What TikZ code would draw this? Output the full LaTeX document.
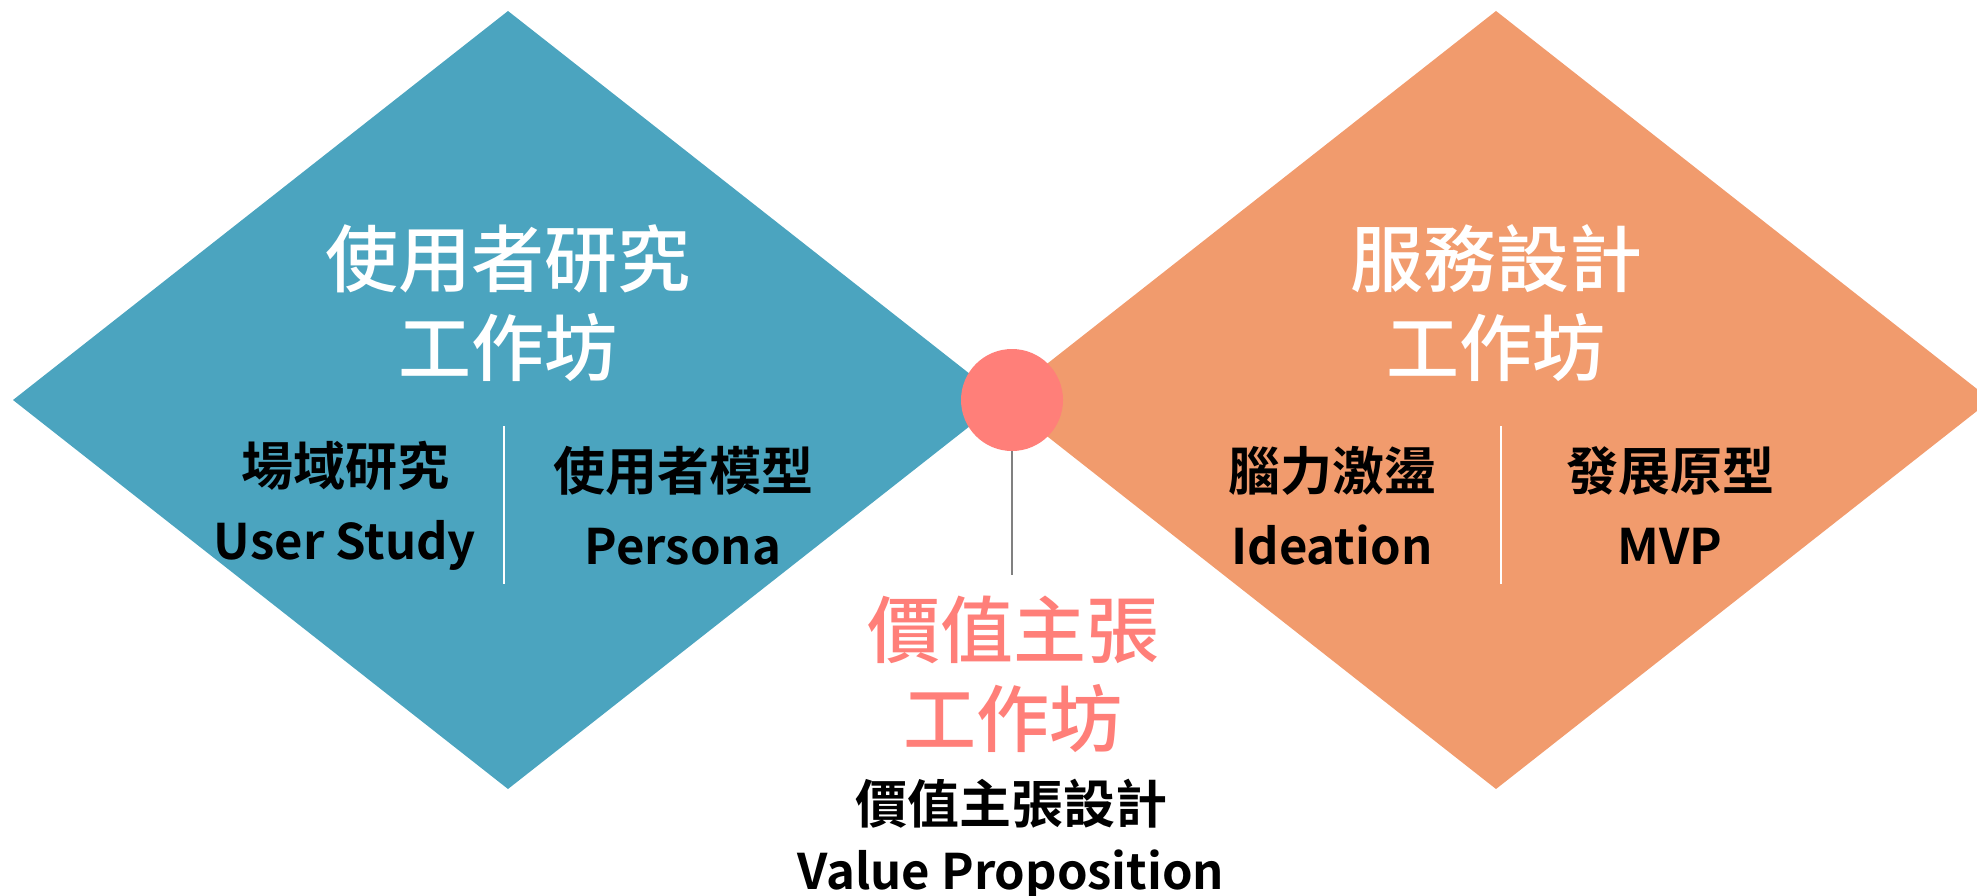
\documentclass[tikz,border=0pt]{standalone}
\usepackage{fontspec}
\setmainfont{Noto Sans CJK TC}[BoldFont={Noto Sans CJK TC Medium}]
\newfontfamily\heavyfont{Noto Sans CJK TC Bold}
\definecolor{userblue}{RGB}{75,164,191}
\definecolor{serviceorange}{RGB}{241,155,109}
\definecolor{valuepink}{RGB}{255,127,121}
\definecolor{stemgray}{RGB}{128,128,128}
\newcommand{\latinsize}{\fontsize{49}{74}\selectfont}
\begin{document}
\begin{tikzpicture}[x=1pt,y=-1pt,
  wstitle/.style={font=\bfseries\fontsize{73}{89}\selectfont,align=center,inner sep=0pt},
  wssub/.style={font=\heavyfont\fontsize{52}{74}\selectfont,align=center,inner sep=0pt,text=black},
  divider/.style={white,line width=1.5pt}]
\useasboundingbox (0,0) rectangle (1977,896);

\fill[userblue] (508,11) -- (1003,400) -- (508,789) -- (13,400) -- cycle;
\fill[serviceorange] (1496,11) -- (1991,400) -- (1496,789) -- (1001,400) -- cycle;

\draw[divider] (504,426) -- (504,584);
\draw[divider] (1501,426) -- (1501,584);

\node [circle,fill=valuepink,minimum size=102pt,inner sep=0pt] (dot) at (1012,400) {};
\coordinate (stem) at (1012,575);
\draw[stemgray,line width=1.3pt] (dot.south) -- (stem);

\node [wstitle,text=white] (usertitle) at (508,303) {使用者研究\\工作坊};
\node [wstitle,text=white] (servicetitle) at (1496,303) {服務設計\\工作坊};
\node [wstitle,text=valuepink] (valuetitle) at (1013,674) {價值主張\\工作坊};

\node [wssub] (fieldstudy) at (345,506) {場域研究\\{\latinsize User Study}};
\node [wssub] (persona) at (683,506) {使用者模型\\{\latinsize Persona}};
\node [wssub] (ideation) at (1332,506) {腦力激盪\\{\latinsize Ideation}};
\node [wssub] (mvp) at (1670,506) {發展原型\\{\latinsize MVP}};
\node [wssub,font=\heavyfont\fontsize{52}{66}\selectfont] (vpdesign) at (1011,840) {價值主張設計\\{\latinsize Value Proposition}};
\end{tikzpicture}
\end{document}
